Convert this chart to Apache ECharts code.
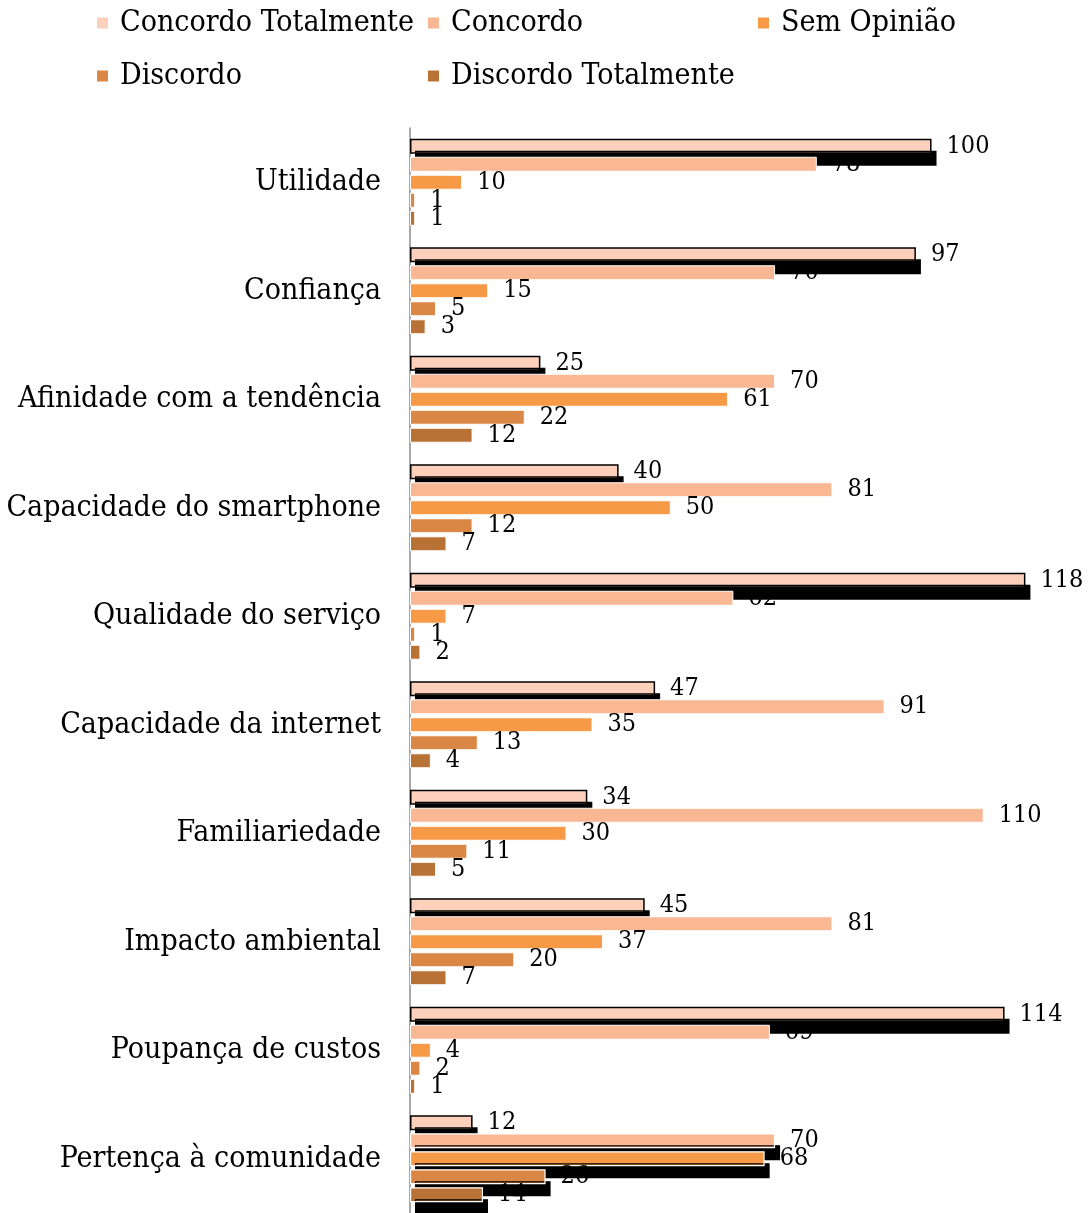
<!DOCTYPE html>
<html>
<head>
<meta charset="utf-8">
<script src="https://cdn.jsdelivr.net/npm/echarts@6/dist/echarts.min.js"></script>
<style>
  html, body { margin: 0; padding: 0; background: #fff; }
  #chart { width: 1088px; height: 1213px; }
</style>
</head>
<body>
<div id="chart"></div>
<script>
// categorias (de cima para baixo)
const categories = [
  'Utilidade',
  'Confiança',
  'Afinidade com a tendência',
  'Capacidade do smartphone',
  'Qualidade do serviço',
  'Capacidade da internet',
  'Familiariedade',
  'Impacto ambiental',
  'Poupança de custos',
  'Pertença à comunidade'
]

const seriesNames = ['Concordo Totalmente', 'Concordo', 'Sem Opinião', 'Discordo', 'Discordo Totalmente']

const concordoTotalmente = [100, 97, 25, 40, 118, 47, 34, 45, 114, 12]
const concordo = [78, 70, 70, 81, 62, 91, 110, 81, 69, 70]
const semOpiniao = [10, 15, 61, 50, 7, 35, 30, 37, 4, 68]
const discordo = [1, 5, 22, 12, 1, 13, 11, 20, 2, 26]
const discordoTotalmente = [1, 3, 12, 7, 2, 4, 5, 7, 1, 14]

const colors = ['#FCD0BB', '#F9B793', '#F79A48', '#DA8644', '#B87236']

const FONT = '"DejaVu Serif Condensed", "DejaVu Serif", serif'

// sombra preta (efeito do excel)
function shadow(border) {
  return {
    borderColor: border,
    borderWidth: border === '#000' ? 1.5 : 1.2,
    shadowColor: '#000',
    shadowBlur: 0,
    shadowOffsetX: 5,
    shadowOffsetY: 12
  }
}

// ultimo grupo tem sombra em todas as barras
function withShadow(values, all) {
  return values.map((v, i) => {
    if (all) return {value: v, itemStyle: shadow('#000')}
    if (i === values.length - 1) return {value: v, itemStyle: shadow('#fff')}
    return v
  })
}

const allData = [
  withShadow(concordoTotalmente, true),
  withShadow(concordo, false),
  withShadow(semOpiniao, false),
  withShadow(discordo, false),
  withShadow(discordoTotalmente, false)
]

const chart = echarts.init(document.getElementById('chart'))

const series = seriesNames.map((name, i) => ({
  name: name,
  type: 'bar',
  barWidth: 15,
  barGap: '20%',
  itemStyle: {
    color: colors[i],
    borderColor: '#fff',
    borderWidth: 1
  },
  label: {
    show: true,
    position: 'right',
    distance: 15,
    fontFamily: FONT,
    fontSize: 25,
    color: '#000'
  },
  data: allData[i]
}))

const legendPos = [
  {left: 95, top: 8},
  {left: 426, top: 8},
  {left: 756, top: 8},
  {left: 95, top: 61},
  {left: 426, top: 61}
]

const option = {
  backgroundColor: '#ffffff',
  animation: false,
  color: colors,
  legend: seriesNames.map((name, i) => ({
    data: [name],
    left: legendPos[i].left,
    top: legendPos[i].top,
    icon: 'rect',
    itemWidth: 13,
    itemHeight: 13,
    itemGap: 0,
    padding: 0,
    textStyle: {
      fontFamily: FONT,
      fontSize: 30,
      color: '#000',
      padding: [0, 0, 0, 6]
    }
  })),
  grid: {
    left: 410,
    right: 0,
    top: 128,
    bottom: -2,
    containLabel: false
  },
  xAxis: {
    type: 'value',
    min: 0,
    max: 130,
    show: false,
    splitLine: {show: false}
  },
  yAxis: {
    type: 'category',
    inverse: true,
    data: categories,
    axisLine: {show: true, lineStyle: {color: '#8c8c8c', width: 1.5}},
    axisTick: {show: false},
    axisLabel: {
      margin: 29,
      fontFamily: FONT,
      fontSize: 30,
      color: '#000'
    }
  },
  series: series
}

chart.setOption(option)
</script>
</body>
</html>
